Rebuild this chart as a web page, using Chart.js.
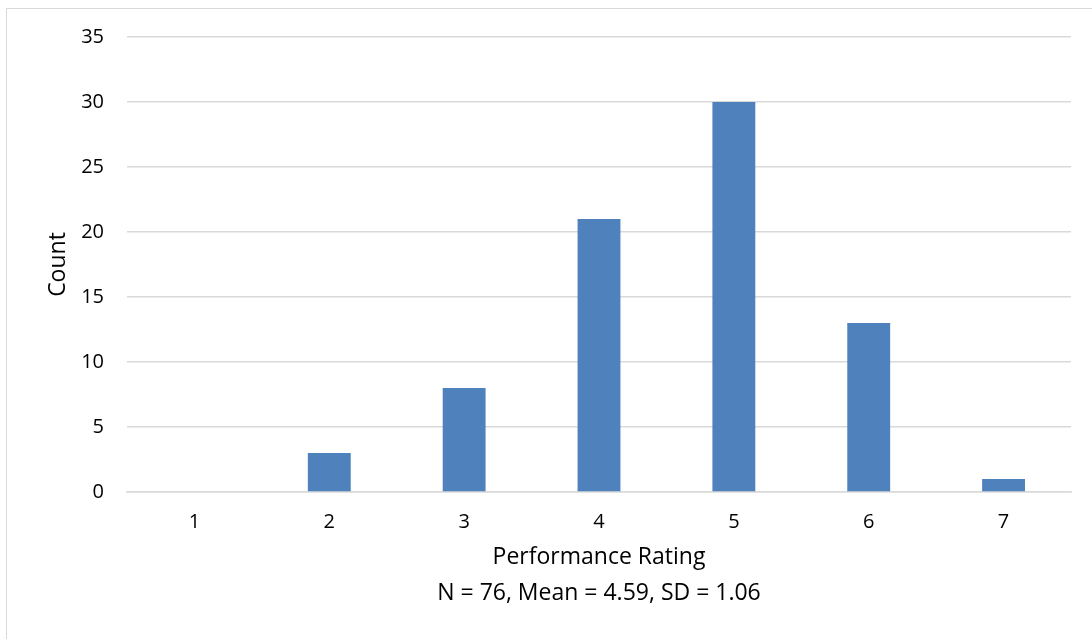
<!DOCTYPE html>
<html>
<head>
<meta charset="utf-8">
<script src="https://cdn.jsdelivr.net/npm/chart.js@4"></script>
<style>
  html, body { margin: 0; padding: 0; background: #fff; }
  #frame { position: absolute; left: 6px; top: 8px; width: 1100px; height: 650px; border: 1.5px solid #d9d9d9; box-sizing: border-box; }
  #wrap { position: absolute; left: 0; top: 0; width: 1092px; height: 639px; }
</style>
</head>
<body>
<div id="frame"></div>
<div id="wrap"><canvas id="c"></canvas></div>
<script>
const categories = ["1", "2", "3", "4", "5", "6", "7"];
const counts = [0, 3, 8, 21, 30, 13, 1];
const xTitleLines = ["Performance Rating", "N = 76, Mean = 4.59, SD = 1.06"];
const yTitle = "Count";

const FONT = "'Open Sans', 'Liberation Sans', sans-serif";

new Chart(document.getElementById('c'), {
  type: 'bar',
  data: {
    labels: categories,
    datasets: [{
      data: counts,
      backgroundColor: '#4f81bd',
      borderWidth: 0,
      categoryPercentage: 1,
      barPercentage: 0.318
    }]
  },
  options: {
    responsive: true,
    maintainAspectRatio: false,
    animation: false,
    layout: { padding: { top: 37, right: 21, left: 45, bottom: 28 } },
    plugins: { legend: { display: false }, tooltip: { enabled: false } },
    scales: {
      x: {
        grid: { display: false, drawTicks: false },
        border: { display: true, color: '#d9d9d9', width: 1.5 },
        ticks: { color: '#000', font: { family: FONT, size: 20 }, padding: 18 },
        title: { display: true, text: xTitleLines, color: '#000', font: { family: FONT, size: 23, lineHeight: 36 / 23 }, padding: { top: 0, bottom: 0 } },
        afterFit: (s) => { s.height = 639 - 492 - 28; }
      },
      y: {
        min: 0, max: 35,
        ticks: { stepSize: 5, color: '#000', font: { family: FONT, size: 20 }, padding: 23 },
        grid: { color: '#d9d9d9', lineWidth: 1.5, drawTicks: false },
        border: { display: false },
        title: { display: true, text: yTitle, color: '#000', font: { family: FONT, size: 23 }, padding: 0 },
        afterFit: (s) => { s.width = 127 - 45; }
      }
    }
  }
});
</script>
</body>
</html>
